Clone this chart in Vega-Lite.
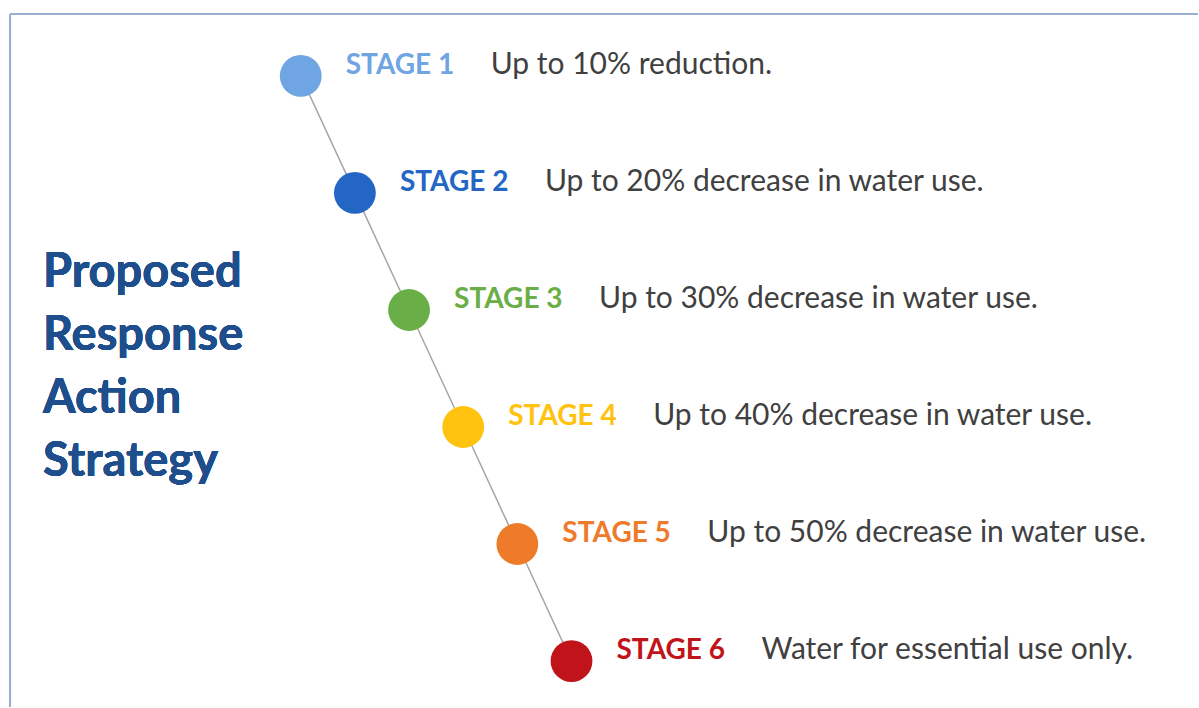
{
  "$schema": "https://vega.github.io/schema/vega-lite/v6.json",
  "width": 1199,
  "height": 708,
  "autosize": {"type": "fit", "contains": "padding"},
  "padding": 0,
  "background": "white",
  "config": {"view": {"stroke": null}, "font": "Lato"},
  "data": {
    "values": [
      {"stage": 1, "label": "STAGE 1", "desc": "Up to 10% reduction."},
      {"stage": 2, "label": "STAGE 2", "desc": "Up to 20% decrease in water use."},
      {"stage": 3, "label": "STAGE 3", "desc": "Up to 30% decrease in water use."},
      {"stage": 4, "label": "STAGE 4", "desc": "Up to 40% decrease in water use."},
      {"stage": 5, "label": "STAGE 5", "desc": "Up to 50% decrease in water use."},
      {"stage": 6, "label": "STAGE 6", "desc": "Water for essential use only."}
    ]
  },
  "encoding": {
    "x": {"field": "stage", "type": "quantitative", "scale": {"domain": [-4.553, 17.568], "nice": false, "zero": false}, "axis": null},
    "y": {"field": "stage", "type": "quantitative", "scale": {"domain": [0.3515, 6.3925], "nice": false, "zero": false, "reverse": true}, "axis": null}
  },
  "layer": [
    {
      "mark": {"type": "rule", "color": "#9AAED0", "strokeWidth": 2},
      "encoding": {
        "x": {"datum": -4.368},
        "x2": {"datum": 17.568},
        "y": {"datum": 0.471}
      }
    },
    {
      "mark": {"type": "rule", "color": "#9AAED0", "strokeWidth": 2},
      "encoding": {
        "x": {"datum": -4.368},
        "y": {"datum": 0.471},
        "y2": {"datum": 6.3925}
      }
    },
    {
      "mark": {"type": "line", "color": "#A6A6A6", "strokeWidth": 1.5},
      "encoding": {"order": {"field": "stage", "type": "quantitative"}}
    },
    {
      "mark": {"type": "circle", "size": 1750, "opacity": 1},
      "encoding": {
        "color": {"field": "label", "type": "nominal", "legend": null,
          "scale": {"domain": ["STAGE 1", "STAGE 2", "STAGE 3", "STAGE 4", "STAGE 5", "STAGE 6"],
                    "range": ["#6FA5E2", "#2366C4", "#6AAE48", "#FFC20E", "#EE7B2A", "#C0141A"]}}
      }
    },
    {
      "mark": {"type": "text", "align": "left", "baseline": "alphabetic", "dx": 45, "dy": -2, "fontSize": 28, "fontWeight": "bold"},
      "encoding": {
        "text": {"field": "label"},
        "color": {"field": "label", "type": "nominal", "legend": null}
      }
    },
    {
      "mark": {"type": "text", "align": "left", "baseline": "alphabetic", "dx": 190, "dy": -2, "fontSize": 30, "color": "#404040"},
      "encoding": {
        "text": {"field": "desc"}
      }
    },
    {
      "mark": {"type": "text", "align": "left", "baseline": "alphabetic", "fontSize": 47, "fontWeight": "bold", "color": "#1F4E8C", "lineHeight": 63,
        "text": ["Proposed", "Response", "Action", "Strategy"]},
      "encoding": {
        "x": {"datum": -3.76},
        "y": {"datum": 2.8}
      }
    }
  ]
}
